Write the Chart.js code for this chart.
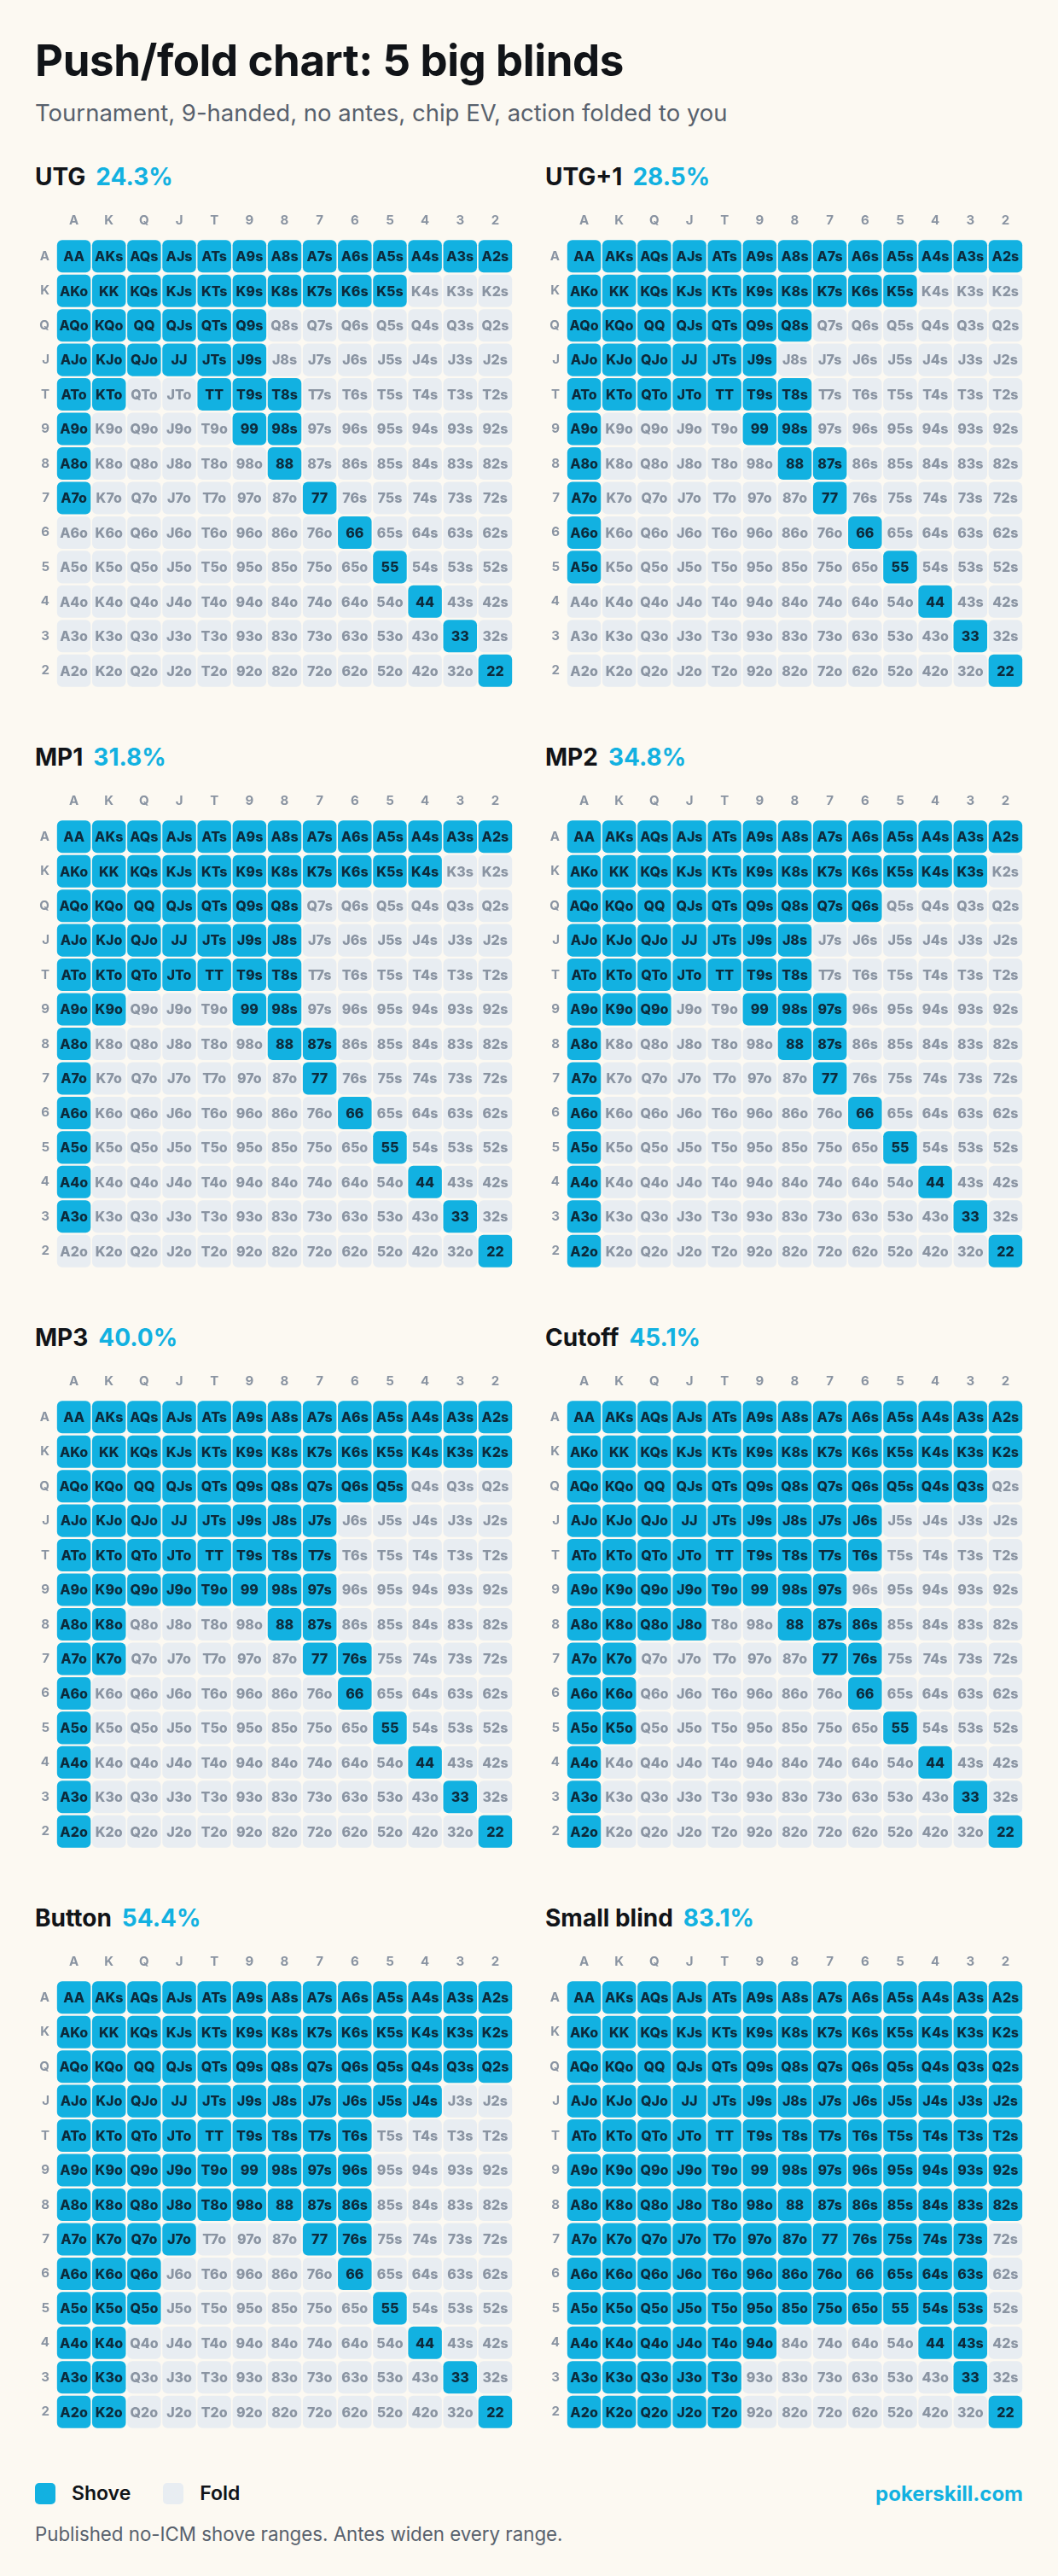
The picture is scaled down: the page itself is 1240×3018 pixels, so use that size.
<!DOCTYPE html>
<html lang="en">
<head>
  <meta charset="UTF-8">
  <title>Push/fold chart: 5 big blinds</title>
  <style>
    html, body {
      margin: 0;
      background: #fcf9f2;
    }

    body {
      width: 1240px;
      height: 3018px;
      font-family: Inter, "Noto Sans", sans-serif;
      color: #111418;
    }

    .page {
      padding: 41px 41px 0 41px;
    }

    h1 {
      margin: 0;
      font-size: 51px;
      line-height: 60px;
      font-weight: 700;
      letter-spacing: -0.4px;
    }

    .sub {
      margin: 15px 0 0;
      font-size: 27.5px;
      line-height: 32px;
      color: #58616d;
    }

    .panels {
      display: grid;
      grid-template-columns: 560px 560px;
      column-gap: 38px;
      row-gap: 47px;
      margin-top: 42px;
    }

    .ptitle {
      font-size: 28px;
      line-height: 34px;
      height: 34px;
      font-weight: 700;
      white-space: nowrap;
    }

    .ptitle span {
      color: #12b1e1;
      margin-left: 12px;
    }

    .panel canvas {
      display: block;
      margin-top: 12px;
    }

    .legend {
      margin-top: 43px;
      height: 30px;
      display: flex;
      align-items: center;
      font-size: 23px;
      font-weight: 600;
    }

    .sw {
      width: 24px;
      height: 25px;
      border-radius: 5px;
      margin-right: 19px;
    }

    .legend .gap {
      width: 38px;
    }

    .legend .site {
      margin-left: auto;
      color: #12b1e1;
      font-weight: 700;
      font-size: 24px;
    }

    .note {
      margin: 20px 0 0;
      font-size: 22.3px;
      line-height: 26px;
      color: #58616d;
    }
  </style>
</head>
<body>
  <div class="page">
    <h1>Push/fold chart: 5 big blinds</h1>
    <p class="sub">Tournament, 9-handed, no antes, chip EV, action folded to you</p>
    <div class="panels" id="panels"></div>
    <div class="legend">
      <div class="sw" style="background:#12b1e1"></div>Shove
      <div class="gap"></div>
      <div class="sw" style="background:#e8edf2"></div>Fold
      <div class="site">pokerskill.com</div>
    </div>
    <p class="note">Published no-ICM shove ranges. Antes widen every range.</p>
  </div>

  <script src="https://cdn.jsdelivr.net/npm/chart.js"></script>
  <script>
    const RANKS = ['A', 'K', 'Q', 'J', 'T', '9', '8', '7', '6', '5', '4', '3', '2'];
    const POSITIONS = ['UTG', 'UTG+1', 'MP1', 'MP2', 'MP3', 'Cutoff', 'Button', 'Small blind'];
    const SHOVE_PCT = ['24.3%', '28.5%', '31.8%', '34.8%', '40.0%', '45.1%', '54.4%', '83.1%'];

    // one string per row (A..2), one char per column (A..2): 1 = shove, 0 = fold
    // above the diagonal = suited, below = offsuit
    const UTG = [
      '1111111111111', '1111111111000', '1111110000000', '1111110000000', '1100111000000',
      '1000011000000', '1000001000000', '1000000100000', '0000000010000', '0000000001000',
      '0000000000100', '0000000000010', '0000000000001'
    ];
    const UTG1 = [
      '1111111111111', '1111111111000', '1111111000000', '1111110000000', '1111111000000',
      '1000011000000', '1000001100000', '1000000100000', '1000000010000', '1000000001000',
      '0000000000100', '0000000000010', '0000000000001'
    ];
    const MP1 = [
      '1111111111111', '1111111111100', '1111111000000', '1111111000000', '1111111000000',
      '1100011000000', '1000001100000', '1000000100000', '1000000010000', '1000000001000',
      '1000000000100', '1000000000010', '0000000000001'
    ];
    const MP2 = [
      '1111111111111', '1111111111110', '1111111110000', '1111111000000', '1111111000000',
      '1110011100000', '1000001100000', '1000000100000', '1000000010000', '1000000001000',
      '1000000000100', '1000000000010', '1000000000001'
    ];
    const MP3 = [
      '1111111111111', '1111111111111', '1111111111000', '1111111100000', '1111111100000',
      '1111111100000', '1100001100000', '1100000110000', '1000000010000', '1000000001000',
      '1000000000100', '1000000000010', '1000000000001'
    ];
    const CUTOFF = [
      '1111111111111', '1111111111111', '1111111111110', '1111111110000', '1111111110000',
      '1111111100000', '1111001110000', '1100000110000', '1100000010000', '1100000001000',
      '1000000000100', '1000000000010', '1000000000001'
    ];
    const BUTTON = [
      '1111111111111', '1111111111111', '1111111111111', '1111111111100', '1111111110000',
      '1111111110000', '1111111110000', '1111000110000', '1110000010000', '1110000001000',
      '1100000000100', '1100000000010', '1100000000001'
    ];
    const SMALL_BLIND = [
      '1111111111111', '1111111111111', '1111111111111', '1111111111111', '1111111111111',
      '1111111111111', '1111111111111', '1111111111110', '1111111111110', '1111111111110',
      '1111110000110', '1111100000010', '1111100000001'
    ];
    const RANGES = [UTG, UTG1, MP1, MP2, MP3, CUTOFF, BUTTON, SMALL_BLIND];

    const SHOVE = '#12b1e1';
    const FOLD = '#e8edf2';
    const SHOVE_TEXT = '#0d2a3b';
    const FOLD_TEXT = '#8a94a2';
    const AXIS = '#8a94a2';

    Chart.defaults.font.family = 'Inter, "Noto Sans", sans-serif';

    function handName(i, j) {
      if (i === j) return RANKS[i] + RANKS[j];
      return j > i ? RANKS[i] + RANKS[j] + 's' : RANKS[j] + RANKS[i] + 'o';
    }

    // writes the hand name in the middle of each cell
    const cellLabels = {
      id: 'cellLabels',
      afterDatasetsDraw(chart) {
        const ctx = chart.ctx;
        ctx.save();
        ctx.font = '800 16px Inter, "Noto Sans", sans-serif';
        ctx.textAlign = 'center';
        ctx.textBaseline = 'middle';
        chart.data.datasets.forEach((ds, i) => {
          chart.getDatasetMeta(i).data.forEach((bar, j) => {
            ctx.fillStyle = ds.shove[j] ? SHOVE_TEXT : FOLD_TEXT;
            ctx.fillText(handName(i, j), bar.x, (bar.y + bar.base) / 2 + 1);
          });
        });
        ctx.restore();
      }
    };

    const panels = document.getElementById('panels');

    RANGES.forEach((range, p) => {
      const panel = document.createElement('div');
      panel.className = 'panel';
      panel.innerHTML = '<div class="ptitle">' + POSITIONS[p] + '<span>' + SHOVE_PCT[p] + '</span></div>';
      const canvas = document.createElement('canvas');
      canvas.width = 560;
      canvas.height = 587;
      canvas.style.width = '560px';
      canvas.style.height = '587px';
      panel.appendChild(canvas);
      panels.appendChild(panel);

      const datasets = range.map((row, i) => {
        const shove = row.split('').map(c => c === '1');
        return {
          data: RANKS.map(() => [i - 0.47, i + 0.47]),
          shove: shove,
          backgroundColor: shove.map(s => s ? SHOVE : FOLD),
          borderRadius: 6,
          borderSkipped: false,
          grouped: false,
          barPercentage: 0.96,
          categoryPercentage: 1
        };
      });

      new Chart(canvas, {
        type: 'bar',
        data: { labels: RANKS, datasets: datasets },
        options: {
          responsive: false,
          animation: false,
          events: [],
          layout: { padding: 0 },
          plugins: {
            legend: { display: false },
            tooltip: { enabled: false }
          },
          scales: {
            x: {
              type: 'category',
              position: 'top',
              offset: true,
              grid: { display: false, drawTicks: false },
              border: { display: false },
              ticks: {
                color: AXIS,
                font: { size: 15, weight: 'bold' },
                padding: 13,
                autoSkip: false,
                maxRotation: 0
              },
              afterFit(s) { s.height = 44; }
            },
            y: {
              type: 'linear',
              reverse: true,
              min: -0.5,
              max: 12.5,
              grid: { display: false, drawTicks: false },
              border: { display: false },
              afterBuildTicks(s) { s.ticks = RANKS.map((_, i) => ({ value: i })); },
              ticks: {
                color: AXIS,
                font: { size: 15, weight: 'bold' },
                padding: 8,
                autoSkip: false,
                callback: v => RANKS[v]
              },
              afterFit(s) { s.width = 25; }
            }
          }
        },
        plugins: [cellLabels]
      });
    });
  </script>
</body>
</html>
